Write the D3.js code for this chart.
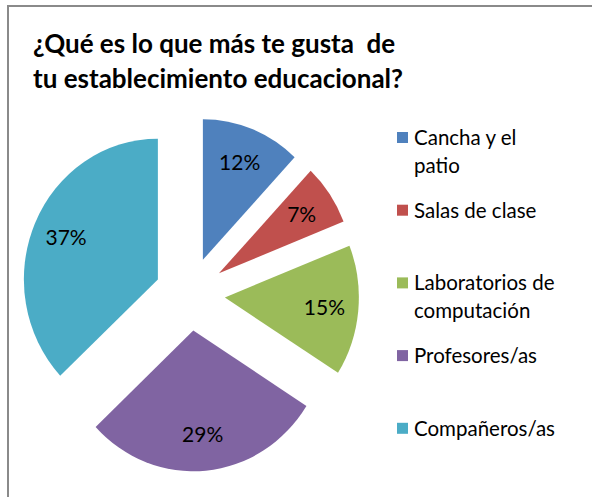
<!DOCTYPE html>
<html>
<head>
<meta charset="utf-8">
<script src="https://cdn.jsdelivr.net/npm/d3@7"></script>
<style>
  body { margin: 0; background: #fff; }
  svg { display: block; }
</style>
</head>
<body>
<script>
// chart data
const categories = ["Cancha y el patio", "Salas de clase", "Laboratorios de computación", "Profesores/as", "Compañeros/as"];
const values = [12, 7, 15, 29, 37];
const legendLines = [["Cancha y el", "patio"], ["Salas de clase"], ["Laboratorios de", "computación"], ["Profesores/as"], ["Compañeros/as"]];
const colors = ["#4F81BD", "#C0504D", "#9BBB59", "#8064A2", "#4BACC6"];
const titleLines = ["¿Qué es lo que más te gusta  de", "tu establecimiento educacional?"];

const width = 592, height = 497;
const cx = 190, cy = 294;
const radius = 134, stretchY = 1.05;
const explode = 35;
const labelR = 100;

const svg = d3.select("body").append("svg")
    .attr("width", width)
    .attr("height", height);

// chart border (only left and top edges are inside the picture)
svg.append("rect")
    .attr("x", 8)
    .attr("y", 6)
    .attr("width", 700)
    .attr("height", 700)
    .attr("fill", "none")
    .attr("stroke", "#8a8a8a")
    .attr("stroke-width", 2)

// title
svg.append("g").selectAll("text")
    .data(titleLines)
    .enter()
    .append("text")
        .attr("x", 33)
        .attr("y", function (d, i) { return 53 + i * 35; })
        .text(function (d) { return d; })
        .style("font-family", "Lato, sans-serif")
        .style("font-weight", "bold")
        .style("font-size", "26px")
        .style("white-space", "pre")
        .style("fill", "#000")

// pie
let pie = d3.pie().sort(null).value(function (d) { return d; });
let arcs = pie(values);
let arc = d3.arc().innerRadius(0).outerRadius(radius);

function bisector(d) {
    let a = (d.startAngle + d.endAngle) / 2;
    return [Math.sin(a), -Math.cos(a)];
}

let pieGroup = svg.append("g")
    .attr("transform", "translate(" + cx + "," + cy + ") scale(1," + stretchY + ")");

pieGroup.selectAll("path")
    .data(arcs)
    .enter()
    .append("path")
        .attr("d", arc)
        .attr("fill", function (d, i) { return colors[i]; })
        .attr("transform", function (d) {
            let b = bisector(d);
            return "translate(" + (b[0] * explode) + "," + (b[1] * explode) + ")";
        })

// percent labels
svg.append("g").selectAll("text")
    .data(arcs)
    .enter()
    .append("text")
        .attr("x", function (d) { return cx + bisector(d)[0] * (explode + labelR); })
        .attr("y", function (d) { return cy + bisector(d)[1] * (explode + labelR) * stretchY; })
        .attr("dy", "0.35em")
        .attr("text-anchor", "middle")
        .text(function (d) { return d.data + "%"; })
        .style("font-family", "Lato, sans-serif")
        .style("font-size", "21px")
        .style("fill", "#000")

// legend
let legend = svg.append("g").selectAll("g")
    .data(categories)
    .enter()
    .append("g")
        .attr("transform", function (d, i) { return "translate(397," + (132 + i * 72.7) + ")"; })

legend.append("rect")
    .attr("width", 11)
    .attr("height", 11)
    .attr("fill", function (d, i) { return colors[i]; })

legend.append("text")
    .attr("x", 17)
    .attr("y", 13)
    .style("font-family", "Lato, sans-serif")
    .style("font-size", "20.5px")
    .style("fill", "#000")
    .selectAll("tspan")
    .data(function (d, i) { return legendLines[i]; })
    .enter()
    .append("tspan")
        .attr("x", 17)
        .attr("dy", function (d, j) { return j === 0 ? 0 : 28; })
        .text(function (d) { return d; })
</script>
</body>
</html>
